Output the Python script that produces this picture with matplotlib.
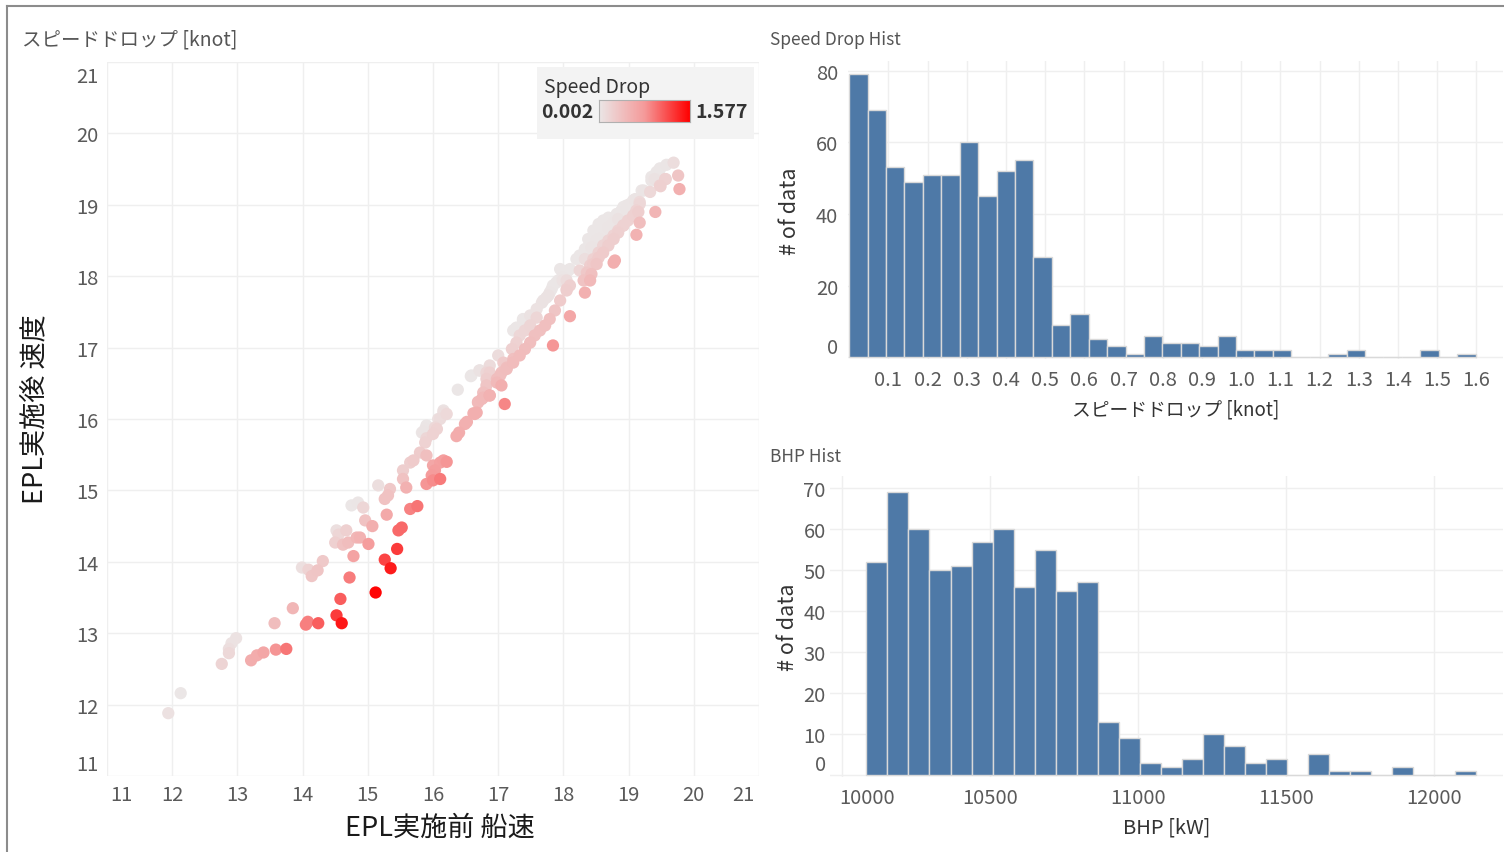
import numpy as np
import matplotlib
matplotlib.use("Agg")
import matplotlib.pyplot as plt
from matplotlib.colors import LinearSegmentedColormap, Normalize
from matplotlib.patches import Rectangle
from matplotlib.lines import Line2D
from matplotlib.transforms import ScaledTranslation

plt.rcParams['font.family'] = ['Noto Sans CJK JP', 'DejaVu Sans']

# --- scatter: ship speed before / after EPL [knot]
speed_before = [
    11.94, 12.13, 12.76, 12.87, 12.87, 12.91, 12.98, 13.21, 13.30, 13.40, 13.59, 13.75, 13.57, 13.85,
    14.05, 14.08, 14.24, 14.52, 14.60, 14.58,
    13.99, 14.09, 14.14, 14.23, 14.31, 14.72, 15.12, 15.26, 15.35, 14.78, 15.45, 14.50, 14.62, 14.70,
    14.83, 14.88, 15.01, 14.52, 14.55, 14.67, 15.52, 15.47, 15.07, 14.96, 15.29, 14.75, 14.85, 14.93,
    15.65, 15.76, 15.16, 15.34, 15.31, 15.26, 15.59, 15.54, 15.54, 15.65, 15.70, 16.00, 16.03, 15.98,
    15.90, 16.00, 16.11, 16.11, 16.16, 16.21, 15.80, 15.90, 15.88, 15.90, 16.36, 16.40, 16.06, 16.00,
    15.90, 15.85, 16.52, 16.62, 16.49, 16.08, 16.16, 16.21, 16.69,
    16.38, 16.58, 16.71, 17.10, 16.77, 16.75, 16.87, 16.82, 16.98, 17.03, 17.00, 17.08, 17.13, 17.21,
    17.28, 17.23, 16.87, 16.82, 16.16, 16.11, 16.03, 15.88, 15.83,
    19.69, 19.58, 19.48, 19.43, 19.35, 19.40, 19.76, 19.78, 19.56, 19.49, 19.23, 19.33, 19.41, 19.10,
    19.00, 18.89, 19.17, 19.15, 19.17, 19.12, 18.84, 18.77, 18.69, 18.61, 18.54, 18.92, 18.84, 18.77,
    18.69, 18.61, 18.54, 18.46, 18.77, 18.79, 18.51, 18.43, 18.41, 18.33, 18.25, 18.33, 18.36, 18.41,
    18.48, 18.10, 17.84, 18.07, 17.99, 17.92, 17.84, 17.79, 17.74, 17.67, 18.05, 17.95, 17.87, 17.79,
    17.72, 17.64, 17.56, 17.49, 17.59, 17.49, 17.41, 17.33, 17.26, 17.38, 17.41, 17.33, 17.23, 17.13,
    17.05, 16.98, 16.87, 16.82, 16.72, 16.59, 17.05, 16.87, 16.77, 16.69, 16.67, 16.64, 18.20, 18.33,
    18.38, 18.46, 18.54, 18.61, 18.69, 18.77, 18.82, 18.92, 18.97, 19.07, 18.10, 18.05,
    19.48, 19.40, 19.35, 19.57, 19.48, 19.20, 19.10, 19.02, 18.97, 18.89, 19.17, 19.12, 19.07, 18.99,
    18.92, 18.84, 18.77, 18.69, 18.61, 18.54, 18.46, 18.41, 18.36, 18.31, 18.92, 18.82, 18.74, 18.66,
    18.59, 18.51, 18.43, 18.35, 18.25, 18.05, 17.99, 17.95, 18.05,
    18.10, 17.99, 17.89, 17.82, 17.77, 17.69, 17.59, 17.49, 17.38, 17.28, 17.23,
]
speed_after = [
    11.88, 12.16, 12.57, 12.72, 12.78, 12.86, 12.93, 12.62, 12.69, 12.73, 12.77, 12.78, 13.14, 13.35,
    13.12, 13.16, 13.14, 13.25, 13.14, 13.48,
    13.92, 13.89, 13.80, 13.88, 14.01, 13.78, 13.57, 14.03, 13.91, 14.08, 14.18, 14.27, 14.24, 14.27,
    14.34, 14.34, 14.25, 14.44, 14.38, 14.44, 14.48, 14.44, 14.50, 14.58, 14.66, 14.79, 14.83, 14.76,
    14.74, 14.78, 15.07, 15.02, 14.93, 14.88, 15.04, 15.28, 15.16, 15.39, 15.42, 15.35, 15.28, 15.21,
    15.09, 15.14, 15.16, 15.39, 15.42, 15.40, 15.53, 15.49, 15.67, 15.73, 15.76, 15.81, 15.86, 15.79,
    15.91, 15.82, 15.96, 16.08, 15.93, 16.00, 16.09, 16.07, 16.24,
    16.41, 16.60, 16.68, 16.21, 16.37, 16.28, 16.33, 16.47, 16.51, 16.61, 16.89, 16.79, 16.70, 16.98,
    17.07, 16.84, 16.65, 16.56, 16.12, 16.00, 15.88, 15.86, 15.81,
    19.59, 19.56, 19.51, 19.46, 19.39, 19.36, 19.41, 19.22, 19.36, 19.26, 19.20, 19.18, 18.90, 19.07,
    18.99, 18.92, 19.04, 18.90, 18.75, 18.58, 18.80, 18.75, 18.68, 18.61, 18.52, 18.71, 18.61, 18.52,
    18.43, 18.33, 18.26, 18.17, 18.19, 18.22, 18.17, 18.03, 17.94, 17.77, 18.08, 18.24, 18.38, 18.47,
    18.57, 17.44, 17.03, 18.08, 18.01, 17.94, 17.87, 17.77, 17.70, 17.63, 17.80, 17.66, 17.52, 17.40,
    17.31, 17.24, 17.17, 17.07, 17.42, 17.31, 17.24, 17.17, 17.26, 17.40, 16.98, 16.89, 16.79, 16.72,
    16.65, 16.56, 16.75, 16.65, 16.68, 16.61, 16.47, 16.33, 16.30, 16.23, 16.09, 16.07, 18.24, 18.38,
    18.52, 18.64, 18.73, 18.78, 18.82, 18.78, 18.87, 18.94, 18.99, 19.06, 17.87, 17.94,
    19.50, 19.41, 19.34, 19.36, 19.27, 19.20, 19.08, 19.01, 18.95, 18.90, 19.01, 18.92, 18.85, 18.78,
    18.71, 18.64, 18.57, 18.50, 18.43, 18.33, 18.24, 18.15, 18.05, 17.94, 18.97, 18.87, 18.78, 18.68,
    18.59, 18.50, 18.40, 18.37, 18.29, 18.05, 17.94, 18.10, 17.82,
    18.10, 17.98, 17.91, 17.82, 17.73, 17.66, 17.54, 17.45, 17.38, 17.28, 17.24,
]
drop_min, drop_max = 0.002, 1.577

# --- speed drop histogram (bin 0.047 knot starting at 0)
drop_bin = 0.047
drop_counts = [79, 69, 53, 49, 51, 51, 60, 45, 52, 55, 28, 9, 12, 5, 3, 1, 6, 4, 4, 3, 6, 2, 2, 2,
               0, 0, 1, 2, 0, 0, 0, 2, 0, 1]
drop_ticks = [0.1, 0.2, 0.3, 0.4, 0.5, 0.6, 0.7, 0.8, 0.9, 1.0, 1.1, 1.2, 1.3, 1.4, 1.5, 1.6]

# --- BHP histogram (bin 71 kW)
bhp_bin = 71
bhp_start = 10082
bhp_counts = [52, 69, 60, 50, 51, 57, 60, 46, 55, 45, 47, 13, 9, 3, 2, 4, 10, 7, 3, 4, 0, 5, 1, 1,
              0, 2, 0, 0, 1]
bhp_ticks = [10000, 10500, 11000, 11500, 12000]

W, H = 1504, 853
fig = plt.figure(figsize=(W / 100, H / 100), dpi=100)


def fx(px):
    return px / W


def fy(py):
    return 1 - py / H


def nudge(lbl, dx, dy):
    lbl.set_transform(lbl.get_transform() + ScaledTranslation(dx / 100, dy / 100, fig.dpi_scale_trans))


tick_col = '#5a5a5a'
grid_col = '#efefef'
bar_col = '#4e79a7'


def style(ax):
    for s in ax.spines.values():
        s.set_visible(False)
    ax.grid(True, color=grid_col, lw=1)
    ax.set_axisbelow(True)
    ax.tick_params(length=0, labelsize=14.5, colors=tick_col)


cmap = LinearSegmentedColormap.from_list('drop', ['#ebe6e6', '#f59a9a', '#ff0000'])
norm = Normalize(drop_min, drop_max)

# ---------------- scatter
ax = fig.add_axes([fx(107), fy(777), fx(759) - fx(107), fy(63) - fy(777)])
style(ax)
before = np.array(speed_before)
after = np.array(speed_after)
drop = before - after
order = np.argsort(drop)
ax.scatter(before[order], after[order], c=drop[order], cmap=cmap, norm=norm, s=78, lw=0, zorder=3)
ax.set_xlim(11, 21)
ax.set_ylim(11, 21)
ticks = list(range(11, 22))
ax.set_xticks(ticks, [str(t) for t in ticks])
ax.set_yticks(ticks, [str(t) for t in ticks])
ax.tick_params(axis='x', pad=6)
ax.tick_params(axis='y', pad=6)
xl = ax.get_xticklabels()
nudge(xl[0], 14, 0)
nudge(xl[-1], -16, 0)
yl = ax.get_yticklabels()
nudge(yl[0], 0, 14)
nudge(yl[-1], 0, -12)
fig.text(fx(440), fy(828), 'EPL実施前 船速', ha='center', va='center', fontsize=19.5, color='#1a1a1a')
fig.text(fx(35), fy(409), 'EPL実施後 速度', ha='center', va='center', rotation=90, fontsize=19.5,
         color='#1a1a1a')
fig.text(fx(22), fy(40), 'スピードドロップ [knot]', ha='left', va='center', fontsize=14, color='#555555')

# legend box
ax.add_patch(Rectangle((fx(537), fy(140)), fx(754) - fx(537), fy(68) - fy(140), transform=fig.transFigure,
                       facecolor='#f3f3f3', edgecolor='none', zorder=5, clip_on=False))
ax.text(fx(544), fy(87), 'Speed Drop', transform=fig.transFigure, ha='left', va='center', fontsize=14,
        color='#333333', zorder=6)
ax.text(fx(541), fy(112), f'{drop_min:.3f}', transform=fig.transFigure, ha='left', va='center',
        fontsize=14, fontweight='bold', color='#333333', zorder=6)
ax.text(fx(695), fy(112), f'{drop_max:.3f}', transform=fig.transFigure, ha='left', va='center',
        fontsize=14, fontweight='bold', color='#333333', zorder=6)
cax = fig.add_axes([fx(599), fy(123), fx(690) - fx(599), fy(101) - fy(123)])
cax.imshow(np.linspace(0, 1, 256)[None, :], aspect='auto', cmap=cmap)
cax.set_xticks([])
cax.set_yticks([])
for s in cax.spines.values():
    s.set_color('#b0b0b0')

# ---------------- speed drop histogram
ax1 = fig.add_axes([fx(848), fy(360), fx(1503) - fx(848), fy(62) - fy(360)])
style(ax1)
edges = np.arange(len(drop_counts)) * drop_bin
ax1.bar(edges, drop_counts, width=drop_bin, align='edge', color=bar_col, edgecolor='#d9d9d9', lw=1,
        zorder=3)
ax1.set_xlim(-0.003, 1.668)
ax1.set_ylim(-0.5, 82.7)
ax1.set_xticks(drop_ticks, [f'{t:.1f}' for t in drop_ticks])
ax1.set_yticks([0, 20, 40, 60, 80], ['0', '20', '40', '60', '80'])
ax1.tick_params(axis='x', pad=7)
ax1.tick_params(axis='y', pad=7)
nudge(ax1.get_yticklabels()[0], 0, 12)
ax1.set_xlabel('スピードドロップ [knot]', fontsize=13.5, color='#333333', labelpad=6)
ax1.set_ylabel('# of data', fontsize=15.5, color='#333333', labelpad=11)
fig.text(fx(770), fy(40), 'Speed Drop Hist', ha='left', va='center', fontsize=12.5, color='#555555')

# ---------------- BHP histogram
ax2 = fig.add_axes([fx(830), fy(778), fx(1503) - fx(830), fy(477) - fy(778)])
style(ax2)
bedges = bhp_start + np.arange(len(bhp_counts)) * bhp_bin
ax2.bar(bedges, bhp_counts, width=bhp_bin, align='edge', color=bar_col, edgecolor='#d9d9d9', lw=1,
        zorder=3)
ax2.set_xlim(9959, 12232)
ax2.set_ylim(-0.5, 73)
ax2.set_xticks(bhp_ticks, [str(t) for t in bhp_ticks])
ax2.set_yticks(range(0, 80, 10), [str(t) for t in range(0, 80, 10)])
ax2.tick_params(axis='x', pad=7)
ax2.tick_params(axis='y', pad=3)
nudge(ax2.get_xticklabels()[0], 25, 0)
nudge(ax2.get_yticklabels()[0], 0, 13)
ax2.set_xlabel('BHP [kW]', fontsize=14.5, color='#333333', labelpad=6)
ax2.set_ylabel('# of data', fontsize=15.5, color='#333333', labelpad=3)
fig.text(fx(770), fy(457), 'BHP Hist', ha='left', va='center', fontsize=12.5, color='#555555')

# outer frame
fig.add_artist(Line2D([fx(7), 1], [fy(7), fy(7)], transform=fig.transFigure, color='#8c8c8c', lw=1.5))
fig.add_artist(Line2D([fx(7), fx(7)], [fy(7), 0], transform=fig.transFigure, color='#8c8c8c', lw=1.5))

fig.savefig('out.png', dpi=100, facecolor='white')
